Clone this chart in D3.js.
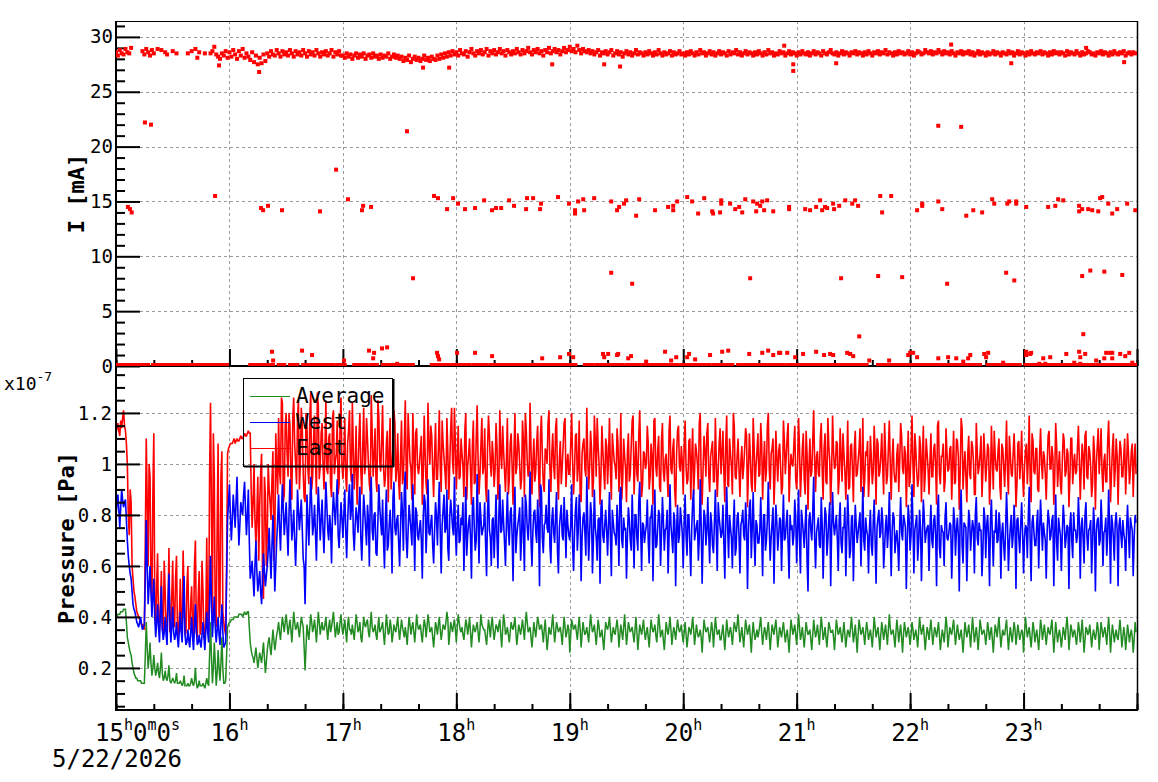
<!DOCTYPE html>
<html><head><meta charset="utf-8">
<script src="https://cdn.jsdelivr.net/npm/d3@7"></script>
<style>body{margin:0;background:#fff}svg{display:block}text{font-family:"DejaVu Sans Mono",monospace;fill:#000}</style>
</head><body><svg id="c" width="1158" height="782"></svg>
<script>
// ---------- DATA ----------
// Pressure samples on each minute from 15:00 (index = minutes after 15:00), in nPa (1e-9 Pa)
const eastPressure = [
112,116,111,114,121,113,100,72,85,55, 48,42,40,38,37,35,110,60,95,45,
112,38,65,36,58,34,50,37,67,35, 62,36,64,33,55,35,48,34,60,36,
52,33,70,32,58,35,50,31,71,34, 124,40,95,36,108,45,105,38,33,104,
107,108,109,108,110,109,111,110,112,111, 113,112,75,100,68,95,84,104,47,88,
72,90,78,105,70,98,118,92,124,88, 120,95,115,86,126,100,118,90,122,97,
85,115,92,128,95,119,88,123,99,116, 90,125,96,112,87,121,101,117,92,126,
94,118,89,113,98,124,90,115,96,120, 88,122,100,110,92,127,95,114,89,119,
97,123,91,108,85,118,99,121,93,112, 86,117,95,125,90,110,98,120,88,114,
96,106,84,119,92,124,100,111,87,116, 94,121,89,108,97,118,86,113,101,122,
90,115,95,104,87,120,99,110,84,117, 93,123,88,107,96,114,85,119,100,109,
91,116,86,121,98,105,89,118,94,112, 84,120,99,108,90,117,87,113,95,124,
88,110,97,115,83,119,92,106,100,121, 89,112,94,118,86,109,99,116,91,104,
96,120,88,111,93,117,85,108,98,122, 90,113,87,119,95,107,84,115,97,110,
92,118,86,106,99,114,89,120,94,103, 85,112,96,117,88,109,93,121,87,105,
98,115,90,108,84,118,95,111,89,116, 93,104,87,119,96,110,83,113,99,107,
88,117,92,109,86,114,97,105,90,120, 84,111,95,116,89,106,93,118,87,108,
96,113,85,119,91,104,88,115,94,110, 87,107,99,114,83,112,92,118,89,105,
95,116,86,109,97,120,90,106,84,113, 93,108,88,117,96,111,85,104,99,115,
90,118,87,106,94,113,82,110,97,121, 89,105,95,116,86,112,92,107,84,119,
98,109,88,114,93,104,86,117,91,108, 85,113,96,106,89,118,94,103,87,111,
92,115,84,108,97,112,88,105,95,117, 86,110,93,104,89,116,98,107,83,113,
94,119,87,106,91,111,85,115,96,104, 88,112,95,108,84,117,92,103,89,114,
97,106,86,113,93,109,82,118,90,105, 85,111,94,107,88,116,96,104,87,112,
93,108,84,115,90,103,97,110,86,106, 91,117,88,104,95,112,83,108,94,113,
87,105,92,119,85,109,96,106,89,114, 94,103,86,111,98,107,84,116,91,105,
88,112,95,106,83,110,92,104,97,115, 86,108,90,113,94,105,87,111,82,107,
96,114,89,104,93,117,85,106,91,110, 84,109,95,103,88,112,92,105,87,108];
// East samples at half past each minute (nPa)
const eastPressureHalf = [
114,113,117,118,115,108,80,90,60,50, 45,41,39,37,36,70,85,100,52,88,
45,52,37,45,35,62,36,44,34,48, 38,55,35,40,34,66,33,52,35,45,
35,60,34,48,33,62,32,40,35,96, 80,112,38,75,40,95,42,35,60,106,
108,108,110,109,109,110,110,111,111,112, 112,90,85,78,80,62,96,55,95,60,
100,85,94,62,112,88,97,126,85,115, 104,120,95,118,108,92,125,100,115,87,
120,98,118,90,110,102,128,94,112,100, 105,98,110,92,118,96,104,88,115,100,
102,95,108,121,93,106,99,84,110,97, 107,96,118,100,89,112,103,94,125,101,
109,99,95,113,104,90,107,116,98,93, 103,92,109,97,120,101,86,105,112,99,
100,111,96,104,88,108,115,97,103,94, 106,98,117,102,90,105,99,122,96,108,
101,94,110,99,113,86,104,97,107,92, 109,102,96,118,99,91,106,111,95,103,
98,107,93,104,115,97,102,88,108,99, 105,96,112,100,94,109,120,101,97,106,
100,93,108,97,111,103,89,105,116,98, 104,99,114,95,102,92,107,118,100,96,
108,101,97,112,99,87,104,110,95,103, 99,106,93,109,118,100,96,105,90,107,
103,97,112,101,94,108,99,86,110,98, 105,93,107,119,100,96,111,102,92,104,
100,108,95,103,117,99,105,91,109,97, 102,96,113,98,106,90,104,115,97,101,
107,99,94,110,102,88,108,100,116,95, 98,105,112,96,103,109,93,101,97,114,
104,97,108,92,110,99,120,95,103,98, 101,94,106,111,97,103,89,107,99,112,
96,108,100,93,115,98,104,110,95,102, 105,99,91,109,103,116,97,100,107,94,
100,106,97,112,88,104,99,95,109,101, 103,96,110,98,106,93,118,101,97,105,
99,108,94,103,112,97,100,90,107,98, 106,95,101,114,99,87,105,109,96,102,
97,104,110,95,103,99,116,92,106,100, 102,97,93,108,101,111,96,104,99,91,
105,100,112,97,94,107,102,89,110,98, 101,95,106,99,115,96,103,108,93,104,
98,107,100,92,110,103,97,114,99,95, 104,96,109,101,88,105,99,111,97,103,
100,106,94,102,113,98,105,91,108,99, 103,97,111,96,104,100,92,109,101,95,
99,108,102,94,112,97,106,90,104,100, 105,96,100,113,98,103,95,107,99,92,
101,109,97,104,94,110,100,96,106,102, 98,103,111,95,107,99,92,105,100,114,
104,97,101,93,109,102,96,112,98,103, 100,106,95,110,99,104,97,108,101,96];

const westPressure = [
80,88,75,90,83,86,70,60,55,45, 42,38,36,40,35,37,78,45,60,40,
55,32,45,30,52,31,40,29,57,30, 44,31,38,28,42,30,56,29,35,28,
40,27,45,29,33,28,38,27,42,30, 64,32,48,30,40,29,45,28,30,78,
92,70,88,75,95,68,85,80,93,72, 90,55,62,48,70,50,58,45,65,52,
60,75,55,80,50,70,88,66,92,72, 85,64,94,70,82,60,90,74,86,63,
45,88,68,95,72,84,62,91,70,86, 65,93,74,80,61,89,76,94,67,85,
71,90,63,87,78,96,66,83,73,91, 62,88,75,84,60,95,70,81,64,92,
77,86,59,90,68,82,57,93,72,80, 60,89,66,97,63,84,74,92,58,81,
70,78,55,88,65,94,72,80,61,85, 68,93,57,82,73,90,62,86,75,95,
64,84,70,76,58,91,72,80,55,87, 66,96,61,79,74,85,56,90,71,78,
63,88,59,92,74,77,60,89,68,83, 54,91,72,79,62,87,58,84,70,97,
60,81,73,86,52,90,65,77,75,94, 61,83,69,89,57,80,72,87,63,76,
70,92,58,82,66,88,54,79,73,95, 62,85,57,90,71,78,53,86,69,82,
64,89,56,77,72,84,60,91,67,74, 55,83,70,88,59,80,66,93,58,76,
73,86,61,79,54,90,68,82,60,87, 66,75,57,92,71,81,52,84,72,78,
59,88,64,80,56,85,70,76,62,94, 53,82,68,87,61,77,65,90,58,79,
71,84,55,91,63,75,59,86,67,81, 57,78,72,85,51,83,63,89,60,76,
69,87,56,80,70,93,62,77,53,84, 66,79,58,88,71,82,55,74,68,86,
61,90,57,78,67,84,50,81,70,95, 59,76,68,87,55,83,64,79,52,89,
72,80,58,85,65,75,56,88,63,79, 54,84,69,77,60,91,66,74,57,82,
64,86,53,79,71,83,59,76,67,89, 56,81,65,74,58,87,70,78,51,84,
66,92,57,77,62,82,54,86,69,75, 58,84,67,80,52,88,63,74,60,85,
70,77,55,83,64,79,50,90,61,76, 54,82,66,78,57,87,68,74,56,83,
63,80,52,86,60,73,69,81,55,77, 62,89,58,75,67,84,51,79,65,85,
57,76,63,91,54,80,68,77,59,86, 66,73,55,82,70,78,52,88,62,75,
58,84,67,76,51,81,63,74,69,87, 55,79,61,85,66,75,57,83,50,78,
68,86,60,74,64,90,53,77,62,81, 52,79,67,73,58,84,63,76,56,80];
const westPressureHalf = [
84,82,83,86,85,78,64,57,50,43, 40,37,38,37,36,55,60,52,50,48,
40,38,36,42,35,34,33,45,40,36, 34,33,32,35,34,45,33,30,31,34,
32,36,35,30,30,33,32,35,34,48, 45,40,36,35,33,38,34,29,55,85,
80,78,82,85,80,76,82,88,82,80, 70,58,55,60,58,54,50,55,58,56,
66,64,68,65,60,78,75,80,82,78, 74,80,82,75,70,72,82,80,75,60,
65,78,82,84,76,73,78,82,78,74, 78,84,70,75,80,82,85,72,76,79,
80,74,77,92,82,73,76,79,84,71, 75,82,68,78,88,74,80,65,77,83,
72,70,79,66,76,73,87,75,78,69, 76,81,90,71,74,79,68,77,83,72,
75,70,79,85,76,73,77,68,74,80, 82,73,76,88,75,67,79,81,72,74,
77,69,79,85,73,64,77,71,83,75, 70,78,85,72,76,68,81,74,60,79,
75,71,80,73,86,69,77,74,81,72, 79,65,76,83,71,73,88,75,78,70,
74,82,69,77,92,71,76,84,73,68, 78,73,80,66,75,84,70,77,82,72,
76,68,73,87,74,79,71,81,64,77, 73,80,70,75,62,79,83,72,76,74,
77,71,82,73,68,76,88,70,79,75, 72,78,66,74,80,71,85,74,77,69,
76,70,79,84,73,67,75,80,72,78, 74,82,71,76,65,78,74,69,83,73,
77,72,80,68,75,90,73,78,71,76, 70,79,74,72,81,68,77,73,85,75,
73,69,78,75,80,71,76,64,79,72, 76,82,70,77,73,86,75,71,78,69,
74,72,80,66,78,75,71,83,73,77, 72,78,74,70,77,68,80,76,72,79,
75,70,82,73,76,62,78,74,81,71, 73,79,67,76,72,80,70,85,74,77,
76,71,78,69,75,83,72,77,66,80, 71,76,73,81,74,70,79,72,75,68,
77,70,75,82,73,78,67,80,74,72, 74,79,71,68,76,73,80,75,70,78,
72,77,74,80,69,75,71,79,73,76, 75,70,78,72,82,67,76,73,79,71,
73,76,69,78,74,72,81,68,77,75, 70,78,73,75,80,71,77,74,66,79,
76,71,78,72,74,82,70,76,73,68, 74,77,69,80,72,75,78,71,76,73,
71,75,79,70,77,73,68,82,74,76, 77,70,74,78,72,80,73,69,79,72,
73,78,71,75,76,70,81,74,72,77, 75,71,80,72,74,78,69,76,73,79,
70,76,73,79,72,75,80,71,77,74, 76,72,78,70,75,73,79,74,71,77];

const averagePressure = [
40,41,41,42,43,43,32,28,25,20, 17,16,15,15,14,14,38,20,30,17,
25,17,22,16,26,15,19,15,21,14, 16,14,18,14,15,13,17,13,14,13,
16,13,20,12,15,13,14,12,16,13, 38,14,30,13,27,15,32,14,15,36,
38,39,39,40,40,41,41,40,42,41, 42,30,25,22,28,20,26,22,30,18,
27,32,25,35,27,33,38,31,40,34, 41,33,39,30,42,35,38,32,40,36,
19,37,31,41,34,39,30,42,33,38, 35,40,31,39,36,42,32,38,34,41,
33,39,30,40,35,37,31,41,34,38, 30,40,36,39,32,42,34,37,31,40,
35,38,29,41,33,39,30,37,34,40, 31,39,34,36,29,40,33,38,30,41,
35,37,30,39,32,41,34,36,28,38, 33,40,31,37,35,42,29,38,34,39,
30,41,35,36,31,39,33,40,28,37, 34,38,30,41,36,35,29,39,32,40,
31,37,34,39,28,41,33,36,30,38, 35,40,29,37,33,39,31,42,34,36,
28,38,32,40,35,37,30,39,27,36, 33,41,30,38,34,36,29,40,32,37,
26,39,35,37,31,40,28,38,33,36, 30,41,34,37,29,39,32,35,27,38,
35,40,30,36,33,39,28,37,31,41, 29,38,34,36,30,40,27,37,33,39,
31,36,28,39,34,37,30,41,32,35, 27,38,33,40,29,36,31,39,34,37,
30,38,28,36,33,40,29,37,32,35, 26,39,34,36,30,38,28,40,33,35,
31,37,27,39,32,36,29,38,34,41, 30,36,28,39,33,37,26,38,31,35,
34,40,29,36,31,38,27,37,33,39, 28,36,32,38,30,35,26,39,33,37,
29,41,31,36,28,38,33,35,27,39, 32,37,29,40,31,36,28,38,34,35,
27,39,33,36,30,38,28,35,32,40, 30,37,26,39,33,36,29,38,31,35,
28,40,32,36,27,38,31,37,29,41, 33,35,28,39,30,37,26,38,32,36,
29,38,31,35,28,40,33,37,27,36, 31,39,29,36,32,38,27,35,30,40,
28,36,33,39,29,37,31,35,26,38, 32,37,28,40,30,36,27,39,33,35,
29,38,31,36,26,37,32,40,28,35, 33,39,27,36,30,38,29,37,31,35,
26,40,32,36,28,38,30,35,27,39, 31,37,29,36,33,39,26,38,30,35,
28,36,31,40,27,37,32,35,29,38, 30,39,26,36,33,37,28,35,31,38,
27,38,32,36,29,40,26,37,30,35, 31,39,28,36,27,37,30,35,26,38];
const averagePressureHalf = [
40,41,42,42,43,38,30,26,22,18, 16,15,15,14,14,25,28,24,22,20,
20,19,18,20,18,16,16,17,15,15, 15,15,14,14,14,14,13,13,13,14,
14,15,14,13,13,13,13,14,14,25, 24,20,22,18,20,22,20,14,25,37,
38,39,40,40,40,41,41,41,41,42, 36,27,24,25,24,23,24,26,24,22,
30,28,30,31,30,35,34,36,37,38, 37,36,35,36,38,36,35,36,38,28,
28,34,36,38,36,35,36,38,36,35, 37,35,36,34,39,37,35,33,38,36,
36,34,37,35,33,34,36,38,35,32, 35,37,38,34,37,36,35,33,36,34,
36,33,35,37,34,36,33,35,37,35, 35,36,32,33,35,37,36,34,35,37,
36,33,35,37,36,38,35,32,33,36, 37,35,34,36,38,39,33,36,37,35,
36,38,34,33,35,37,36,34,33,35, 36,34,35,37,35,32,34,36,37,35,
34,36,37,33,35,38,34,33,34,36, 37,34,33,35,36,35,37,38,35,32,
33,35,36,38,36,34,35,33,31,34, 37,35,34,36,35,33,35,36,34,35,
33,37,36,34,36,35,33,35,34,33, 36,37,35,33,34,36,33,31,33,36,
37,35,33,34,36,35,33,34,36,35, 33,36,35,33,35,34,32,35,36,34,
34,32,34,36,35,33,35,37,34,31, 33,35,36,35,33,34,35,36,35,33,
34,33,32,35,36,35,33,34,33,32, 33,36,35,33,34,35,34,36,34,31,
34,32,33,35,34,33,34,36,37,35, 33,32,34,36,35,32,33,34,33,32,
37,34,33,34,35,33,32,35,36,34, 32,34,35,34,33,31,33,36,35,33,
35,36,33,32,33,35,34,31,33,35, 34,33,35,36,33,32,33,36,34,32,
33,36,34,33,34,33,32,34,36,35, 33,32,33,36,34,33,34,35,33,32,
34,36,34,32,33,35,34,33,35,36, 34,32,34,35,34,32,33,35,34,33,
33,35,33,32,34,36,35,32,32,34, 35,34,33,34,35,33,31,33,35,36,
32,34,36,34,33,34,33,31,32,35, 34,33,34,35,33,32,33,36,34,33,
33,35,34,31,32,35,36,34,32,33, 36,33,32,33,34,35,33,34,33,34,
33,36,34,32,33,35,33,31,33,36, 34,33,33,34,36,33,32,34,33,32,
32,34,36,35,32,35,34,32,33,35, 34,33,31,35,34,33,32,33,34,35,
33,35,34,33,35,34,32,34,33,32, 35,34,32,33,32,34,33,32,31,34];

// Beam current (mA), main fill band, one per minute from 15:00 (null = no reading)
const currentBand = [
28.6,28.3,28.8,28.5,28.4,28.9,28.6,28.5,29.0,null, null,null,null,null,28.7,28.4,28.9,28.6,28.3,28.8,
28.5,null,28.9,null,28.8,null,28.6,28.4,null,null, 28.7,null,28.5,null,null,null,null,null,28.5,null,
28.7,null,28.9,28.1,28.6,null,null,28.5,null,null, 28.5,28.7,29.1,28.4,28.2,28.0,28.5,28.3,28.7,28.1,
28.6,28.2,28.8,28.4,28.0,28.7,28.3,28.9,28.1,28.5, 28.2,27.9,28.6,27.7,28.3,27.5,28.1,27.6,28.4,27.8,
28.5,28.2,28.7,28.4,28.3,28.8,28.5,28.2,28.7,28.4, 28.6,28.3,28.8,28.5,28.2,28.7,28.4,28.6,28.3,28.8,
28.5,28.2,28.7,28.4,28.6,28.3,28.8,28.5,28.2,28.6, 28.4,28.7,28.3,28.5,28.8,28.2,28.6,28.4,28.7,28.3,
28.3,28.1,28.5,28.2,28.4,28.0,28.3,28.5,28.1,28.4, 28.2,28.5,28.0,28.3,28.4,28.1,28.5,28.2,28.3,28.0,
28.4,28.1,28.3,28.2,28.5,28.0,28.2,28.4,28.1,28.3, 28.0,28.2,27.8,28.1,27.9,28.3,27.7,28.0,28.2,27.9,
28.1,27.8,28.0,28.3,27.9,28.1,27.8,28.2,28.0,27.9, 28.3,28.0,28.4,28.1,28.5,28.2,28.6,28.3,28.7,28.4,
28.6,28.3,28.8,28.5,28.4,28.7,28.2,28.6,28.9,28.5, 28.3,28.7,28.5,28.8,28.4,28.6,28.9,28.3,28.7,28.5,
28.8,28.4,28.6,28.9,28.5,28.7,28.3,28.8,28.6,28.4, 28.7,28.5,28.9,28.6,28.4,28.8,28.5,28.7,29.0,28.6,
28.4,28.8,28.6,28.9,28.5,28.7,28.3,28.8,28.6,29.0, 28.5,28.7,28.9,28.6,28.8,28.4,28.7,29.0,28.6,28.8,
29.1,28.7,28.9,28.6,29.2,28.8,28.5,28.9,28.7,28.6, 28.8,28.5,28.7,28.4,28.6,28.8,28.3,28.6,28.5,28.7,
28.4,28.6,28.8,28.3,28.5,28.7,28.4,28.6,28.2,28.5, 28.7,28.4,28.6,28.3,28.5,28.8,28.4,28.6,28.5,28.3,
28.6,28.4,28.7,28.5,28.3,28.6,28.4,28.8,28.5,28.3, 28.6,28.4,28.5,28.7,28.3,28.6,28.4,28.5,28.7,28.4,
28.5,28.3,28.6,28.4,28.7,28.5,28.3,28.6,28.4,28.8, 28.5,28.6,28.3,28.5,28.7,28.4,28.6,28.3,28.5,28.7,
28.4,28.6,28.5,28.3,28.7,28.4,28.6,28.5,28.8,28.4, 28.6,28.3,28.5,28.7,28.4,28.6,28.5,28.3,28.6,28.4,
28.7,28.5,28.3,28.6,28.4,28.8,28.5,28.6,28.3,28.5, 28.4,28.7,28.5,28.6,28.3,28.5,28.7,28.4,28.6,28.5,
28.3,28.6,28.4,28.7,28.5,28.4,28.6,28.3,28.5,28.7, 28.4,28.6,28.5,28.3,28.7,28.5,28.4,28.6,28.8,28.5,
28.4,28.6,28.3,28.5,28.7,28.4,28.6,28.5,28.3,28.6, 28.5,28.7,28.4,28.6,28.5,28.3,28.6,28.4,28.7,28.5,
28.3,28.6,28.5,28.7,28.4,28.6,28.5,28.8,28.4,28.6, 28.5,28.3,28.6,28.4,28.7,28.5,28.6,28.4,28.5,28.7,
28.4,28.6,28.3,28.5,28.7,28.6,28.4,28.5,28.8,28.6, 28.5,28.7,28.4,28.6,28.5,28.8,28.6,28.4,28.7,28.5,
28.6,28.4,28.7,28.5,28.3,28.6,28.5,28.7,28.4,28.6, 28.5,28.7,28.4,28.6,28.3,28.5,28.7,28.4,28.6,28.5,
28.3,28.6,28.4,28.5,28.7,28.4,28.6,28.5,28.3,28.6, 28.5,28.4,28.7,28.5,28.6,28.3,28.5,28.7,28.4,28.6,
28.5,28.3,28.6,28.4,28.7,28.5,28.4,28.6,28.5,28.7, 28.4,28.6,28.5,28.3,28.6,28.4,28.7,28.5,28.6,28.4,
28.6,28.5,28.3,28.7,28.4,28.6,28.5,28.4,28.7,28.5, 28.3,28.6,28.4,28.5,28.7,28.6,28.4,28.5,28.3,28.6,
28.5,28.7,28.4,28.6,28.5,28.3,28.6,28.4,28.7,28.5, 28.4,28.6,28.5,28.7,28.3,28.5,28.6,28.4,28.6,28.5];

// Zero-current readings: runs of [startMinute, endMinute] after 15:00
const zeroCurrentRuns = [
[0,17],[19.6,58.7],[71,83],[86,89],[92,96],[99,115],[117,121],[126,133],[135,138],[141,157],
[167,176],[178,183],[185,187],[189,193],[194,196],[198,203],[204,207],[208,210],[212,219],[220,223],
[224,228],[230,239],[240,243],[248,252],[254,259],[260,263],[264,268],[270,274],[275,277],[279,281],
[282,284],[286,289],[290,292],[293,297],[299,305],[306,310],[312,314],[316,320],[322,326],[329,333],
[334,337],[339,342],[343,353],[355,358],[360,381],[383,397],[403,412],[413,427],[428,440],[441,457],
[461,468],[470,478],[481,510],[511,517],[519,540]];

// Isolated current readings: [minute after 15:00, mA]
const currentOutliers = [
[54.5,27.4],[75.7,26.8],[162.4,27.2],[176.2,27.2],[230.7,27.5],[258.2,27.5],[266.6,27.3],[358.2,27.5],[358.2,26.9],
[380.9,27.6],[473.5,27.6],[533.2,27.7],[353.4,29.2],[441.7,29.3],[513.1,29.0],
[15.3,22.2],[18.5,22.0],[153.9,21.4],[434.9,21.9],[447.0,21.8],[116.4,17.9],
[6.3,14.5],[7.4,14.3],[8.3,14.0],[52.4,15.5],[76.7,14.4],[77.8,14.2],[80.4,14.6],[87.8,14.2],[107.9,14.1],
[122.7,15.2],[130.1,14.2],[130.7,14.6],[134.9,14.5],[168.2,15.5],[170.3,15.3],[175.1,14.3],[178.3,15.3],
[180.9,14.8],[184.6,14.3],[189.9,14.4],[194.7,15.1],[198.9,14.2],[201.0,14.4],[203.7,14.4],[207.9,15.1],
[210.5,14.6],[216.9,14.3],[217.4,15.3],[220.6,15.3],[224.3,14.3],[224.8,14.8],[233.8,15.4],[239.6,14.8],
[242.8,14.2],[242.8,13.9],[244.4,15.0],[247.1,15.2],[247.6,14.2],[252.9,15.3],[261.9,15.0],[265.0,14.2],
[266.1,14.5],[268.7,14.8],[269.8,15.1],[275.1,13.7],[276.7,15.2],[285.1,14.2],[292.0,14.5],[294.7,14.6],
[294.7,14.2],[296.8,15.0],[302.1,15.4],[304.7,15.0],[307.9,13.9],[311.1,15.3],[315.3,14.1],[315.8,13.9],
[319.5,14.0],[320.1,15.1],[320.1,14.8],[324.8,14.8],[327.5,14.3],[329.6,14.5],[331.2,14.0],[332.8,15.2],
[337.0,15.0],[338.6,14.1],[339.1,14.8],[340.7,14.6],[341.8,15.0],[342.8,14.2],[344.4,15.1],[347.6,14.1],
[356.0,14.5],[356.0,14.3],[364.5,14.3],[367.1,14.2],[370.3,14.5],[372.4,15.1],[373.5,14.2],[375.0,14.5],
[376.1,14.4],[379.3,14.8],[379.8,14.3],[382.5,14.6],[385.7,15.1],[389.4,14.8],[390.9,15.1],[392.5,14.6],
[404.2,15.5],[405.2,14.0],[410.0,15.5],[423.7,14.2],[426.4,14.8],[426.4,14.6],[434.9,15.0],[437.0,14.3],
[449.7,13.7],[453.4,14.2],[458.1,14.0],[463.4,15.2],[464.5,14.8],[471.4,14.8],[472.4,15.0],[476.1,15.0],
[476.1,14.8],[481.4,14.5],[493.0,14.5],[496.8,14.6],[498.3,15.2],[501.0,15.1],[509.4,14.6],[509.4,14.1],
[511.0,14.3],[514.2,14.3],[516.3,14.2],[519.5,14.1],[520.5,15.3],[521.6,15.4],[524.8,14.8],[526.9,13.9],
[529.5,14.3],[534.8,14.8],[539.1,14.2],
[157.1,8.0],[261.9,8.5],[273.0,7.5],[335.4,8.0],[383.5,8.0],[403.1,8.2],[415.8,8.1],[439.6,7.5],[470.8,8.5],
[475.1,7.8],[511.0,8.2],[515.3,8.7],[522.7,8.6],[532.2,8.3],[393.1,2.7],[511.6,2.9],
[82.5,1.3],[83.1,0.5],[98.4,1.4],[103.7,1.0],[120.6,0.5],[133.8,1.4],[136.0,0.7],[136.5,1.2],[140.7,1.6],
[143.4,1.7],[148.7,0.2],[169.8,1.2],[170.3,0.9],[170.9,0.6],[180.4,1.2],[189.9,1.2],[198.9,0.9],[225.4,0.7],
[234.9,0.8],[239.6,1.1],[241.8,0.8],[257.6,1.1],[258.2,0.8],[260.3,1.1],[265.0,1.0],[265.6,1.1],[270.9,0.7],
[272.4,0.9],[280.4,0.4],[290.4,1.3],[293.6,0.5],[296.3,0.8],[302.1,0.8],[303.1,1.1],[306.3,0.6],[314.2,1.0],
[320.6,1.3],[323.8,1.4],[334.9,1.1],[341.8,1.2],[344.9,1.4],[347.6,1.0],[350.7,1.2],[355.0,1.2],[359.2,0.8],
[351.3,1.2],[363.4,1.1],[370.3,1.3],[374.5,1.0],[377.7,1.1],[379.3,1.0],[386.7,1.2],[388.3,1.1],[389.9,0.9],
[398.4,0.5],[408.9,0.5],[419.0,1.0],[420.0,1.2],[421.6,1.2],[423.7,0.8],[434.9,0.7],[440.1,0.8],[444.4,0.7],
[448.1,0.4],[450.7,0.7],[451.8,1.0],[459.2,1.1],[460.2,0.8],[461.3,1.2],[469.2,0.3],[481.4,1.3],[481.4,1.0],
[483.5,1.1],[484.0,1.2],[488.3,0.2],[490.4,0.7],[491.5,0.2],[494.1,0.8],[502.6,1.1],[506.8,0.3],[509.4,1.3],
[510.0,0.8],[510.0,0.2],[512.6,1.1],[518.4,0.5],[522.7,0.7],[523.7,1.2],[525.8,1.2],[526.9,1.2],[526.9,0.7],
[531.1,1.1],[533.8,0.9],[535.9,1.2],[537.5,0.3]];

const currentTicks = [0,5,10,15,20,25,30];
const pressureTicks = [0.2,0.4,0.6,0.8,1.0,1.2];
const pressureTickLabels = ["0.2","0.4","0.6","0.8","1","1.2"];
const seriesNames = ["Average","West","East"];
const seriesColors = ["#228b22","#0000ff","#ff0000"];

// ---------- CHART ----------
const svg = d3.select('#c');
const t0 = new Date(2026,4,22,15,0,0), t1 = new Date(2026,4,23,0,0,0);
const L=116, R=1137, T=21, MID=366, B=710;
const x = d3.scaleTime().domain([t0,t1]).range([L,R]);
const yI = d3.scaleLinear().domain([0,31.45]).range([MID,T]);
const yP = d3.scaleLinear().domain([0.035,1.384]).range([B,MID]);
const tm = m => new Date(t0.getTime()+m*60000);
const px = v => Math.round(v)+0.5;

const defs = svg.append('defs');
defs.append('clipPath').attr('id','clipTop').append('rect').attr('x',L).attr('y',T).attr('width',R-L).attr('height',MID-T);
defs.append('clipPath').attr('id','clipBot').append('rect').attr('x',L).attr('y',MID).attr('width',R-L).attr('height',B-MID);

// grid
const hours = d3.timeHour.range(d3.timeHour.offset(t0,1), t1);
const grid = svg.append('g').attr('stroke','#9a9a9a').attr('stroke-width',1).attr('stroke-dasharray','3,3').attr('fill','none');
hours.forEach(h => {
  grid.append('line').attr('x1',px(x(h))).attr('x2',px(x(h))).attr('y1',T).attr('y2',MID);
  grid.append('line').attr('x1',px(x(h))).attr('x2',px(x(h))).attr('y1',MID).attr('y2',B);
});
currentTicks.filter(v=>v>0).forEach(v => grid.append('line').attr('x1',L).attr('x2',R).attr('y1',px(yI(v))).attr('y2',px(yI(v))));
pressureTicks.forEach(v => grid.append('line').attr('x1',L).attr('x2',R).attr('y1',px(yP(v))).attr('y2',px(yP(v))));

// pressure lines: merge on-minute and half-minute samples
const merge = (a,b) => a.flatMap((v,i)=>[[i,v],[i+0.5,b[i]]]);
const gP = svg.append('g').attr('clip-path','url(#clipBot)');
const line = d3.line().x(d=>x(tm(d[0]))).y(d=>yP(d[1]/100));
[[merge(averagePressure,averagePressureHalf),0,1.5],[merge(eastPressure,eastPressureHalf),2,1.6],[merge(westPressure,westPressureHalf),1,1.6]].forEach(([arr,k,w]) => {
  gP.append('path').datum(arr).attr('d',line).attr('fill','none').attr('stroke',seriesColors[k])
    .attr('stroke-width',w).attr('stroke-linejoin','miter').attr('stroke-miterlimit',2);
});

// axes frame
const frame = svg.append('g').attr('stroke','#000').attr('fill','none');
frame.append('line').attr('x1',L).attr('x2',R).attr('y1',T+0.5).attr('y2',T+0.5).attr('stroke-width',1.2);
frame.append('line').attr('x1',R+0.5).attr('x2',R+0.5).attr('y1',T).attr('y2',B).attr('stroke-width',1.5);
frame.append('line').attr('x1',L).attr('x2',L).attr('y1',T).attr('y2',B+1).attr('stroke-width',2);
frame.append('line').attr('x1',L-1).attr('x2',R+1).attr('y1',MID).attr('y2',MID).attr('stroke-width',2);
frame.append('line').attr('x1',L-1).attr('x2',R+1).attr('y1',B).attr('y2',B).attr('stroke-width',2);

function styleAxis(g){ g.select('.domain').remove(); g.selectAll('.tick line').attr('stroke','#000').attr('stroke-width',2); g.selectAll('text').remove(); }
// y ticks (inside)
svg.append('g').attr('transform',`translate(${L},0)`).call(d3.axisRight(yI).tickValues(currentTicks).tickSize(24)).call(styleAxis);
svg.append('g').attr('transform',`translate(${L},0)`).call(d3.axisRight(yI).tickValues(d3.range(1,32).filter(v=>v%5)).tickSize(9)).call(styleAxis);
svg.append('g').attr('transform',`translate(${L},0)`).call(d3.axisRight(yP).tickValues(pressureTicks).tickSize(24)).call(styleAxis);
svg.append('g').attr('transform',`translate(${L},0)`).call(d3.axisRight(yP).tickValues(d3.range(0.05,1.38,0.05).filter(v=>Math.abs(v*5-Math.round(v*5))>0.01)).tickSize(9)).call(styleAxis);
// x ticks (inside, upward)
[MID,B].forEach(yy => {
  svg.append('g').attr('transform',`translate(0,${yy})`).call(d3.axisTop(x).ticks(d3.timeHour.every(1)).tickSize(17)).call(styleAxis);
  svg.append('g').attr('transform',`translate(0,${yy})`).call(d3.axisTop(x).ticks(d3.timeMinute.every(20)).tickSize(6)).call(styleAxis);
});

// current markers
const gI = svg.append('g').attr('clip-path','url(#clipTop)').attr('fill','#ff0000');
const sq = 4;
gI.selectAll('rect.z').data(zeroCurrentRuns).join('rect').attr('class','z')
  .attr('x',d=>x(tm(d[0]))-2).attr('width',d=>x(tm(d[1]))-x(tm(d[0]))+4).attr('y',yI(0)-3).attr('height',sq);
gI.selectAll('rect.b').data(currentBand.map((v,i)=>[i,v]).filter(d=>d[1]!==null)).join('rect').attr('class','b')
  .attr('x',d=>x(tm(d[0]))-sq/2).attr('y',d=>yI(d[1])-sq/2).attr('width',sq).attr('height',sq);
gI.selectAll('rect.o').data(currentOutliers).join('rect').attr('class','o')
  .attr('x',d=>x(tm(d[0]))-sq/2).attr('y',d=>yI(d[1])-sq/2).attr('width',sq).attr('height',sq);

// y labels
svg.append('g').attr('transform',`translate(${L},0)`).call(d3.axisLeft(yI).tickValues(currentTicks).tickSize(0).tickPadding(3))
  .call(g=>{g.select('.domain').remove(); g.selectAll('text').attr('font-family','DejaVu Sans Mono').attr('font-size',19).attr('fill','#000');});
svg.append('g').attr('transform',`translate(${L},0)`).call(d3.axisLeft(yP).tickValues(pressureTicks).tickFormat((d,i)=>pressureTickLabels[i]).tickSize(0).tickPadding(4))
  .call(g=>{g.select('.domain').remove(); g.selectAll('text').attr('font-family','DejaVu Sans Mono').attr('font-size',19).attr('fill','#000');});

// exponent label
const ex = svg.append('text').attr('x',4).attr('y',390).attr('font-size',18);
ex.append('tspan').text('x10');
ex.append('tspan').attr('dy',-9).attr('font-size',13).text('-7');

// axis titles
svg.append('text').attr('transform',`translate(84,${(T+MID)/2}) rotate(-90)`).attr('text-anchor','middle')
  .attr('font-size',22).attr('font-weight','bold').text('I [mA]');
svg.append('text').attr('transform',`translate(74,${(MID+B)/2}) rotate(-90)`).attr('text-anchor','middle')
  .attr('font-size',22).attr('font-weight','bold').text('Pressure [Pa]');

// x labels
const first = svg.append('text').attr('x',95).attr('y',741).attr('font-size',24);
[['15',0,24],['h',-11,15],['0',11,24],['m',-11,15],['0',11,24],['s',-11,15]].forEach(([s,dy,fs]) =>
  first.append('tspan').attr('dy',dy).attr('font-size',fs).text(s));
svg.append('text').attr('x',52).attr('y',767).attr('font-size',24).text('5/22/2026');
hours.forEach(h => {
  const tx = svg.append('text').attr('x',x(h)).attr('y',741).attr('text-anchor','middle').attr('font-size',24);
  tx.append('tspan').text(d3.timeFormat('%-H')(h));
  tx.append('tspan').attr('dy',-11).attr('font-size',15).text('h');
});

// legend
const lg = svg.append('g');
lg.append('rect').attr('x',243.5).attr('y',378.5).attr('width',149).attr('height',88).attr('fill','none').attr('stroke','#000').attr('stroke-width',1);
lg.append('line').attr('x1',244).attr('x2',394).attr('y1',466.5).attr('y2',466.5).attr('stroke','#000').attr('stroke-width',2);
lg.append('line').attr('x1',393.5).attr('x2',393.5).attr('y1',379).attr('y2',467).attr('stroke','#000').attr('stroke-width',2);
seriesNames.forEach((n,i) => {
  const cy = 396 + i*26;
  lg.append('line').attr('x1',250).attr('x2',290).attr('y1',cy+0.5).attr('y2',cy+0.5).attr('stroke',seriesColors[i]).attr('stroke-width',1);
  lg.append('text').attr('x',296).attr('y',cy+7).attr('font-size',21).text(n);
});
</script></body></html>
